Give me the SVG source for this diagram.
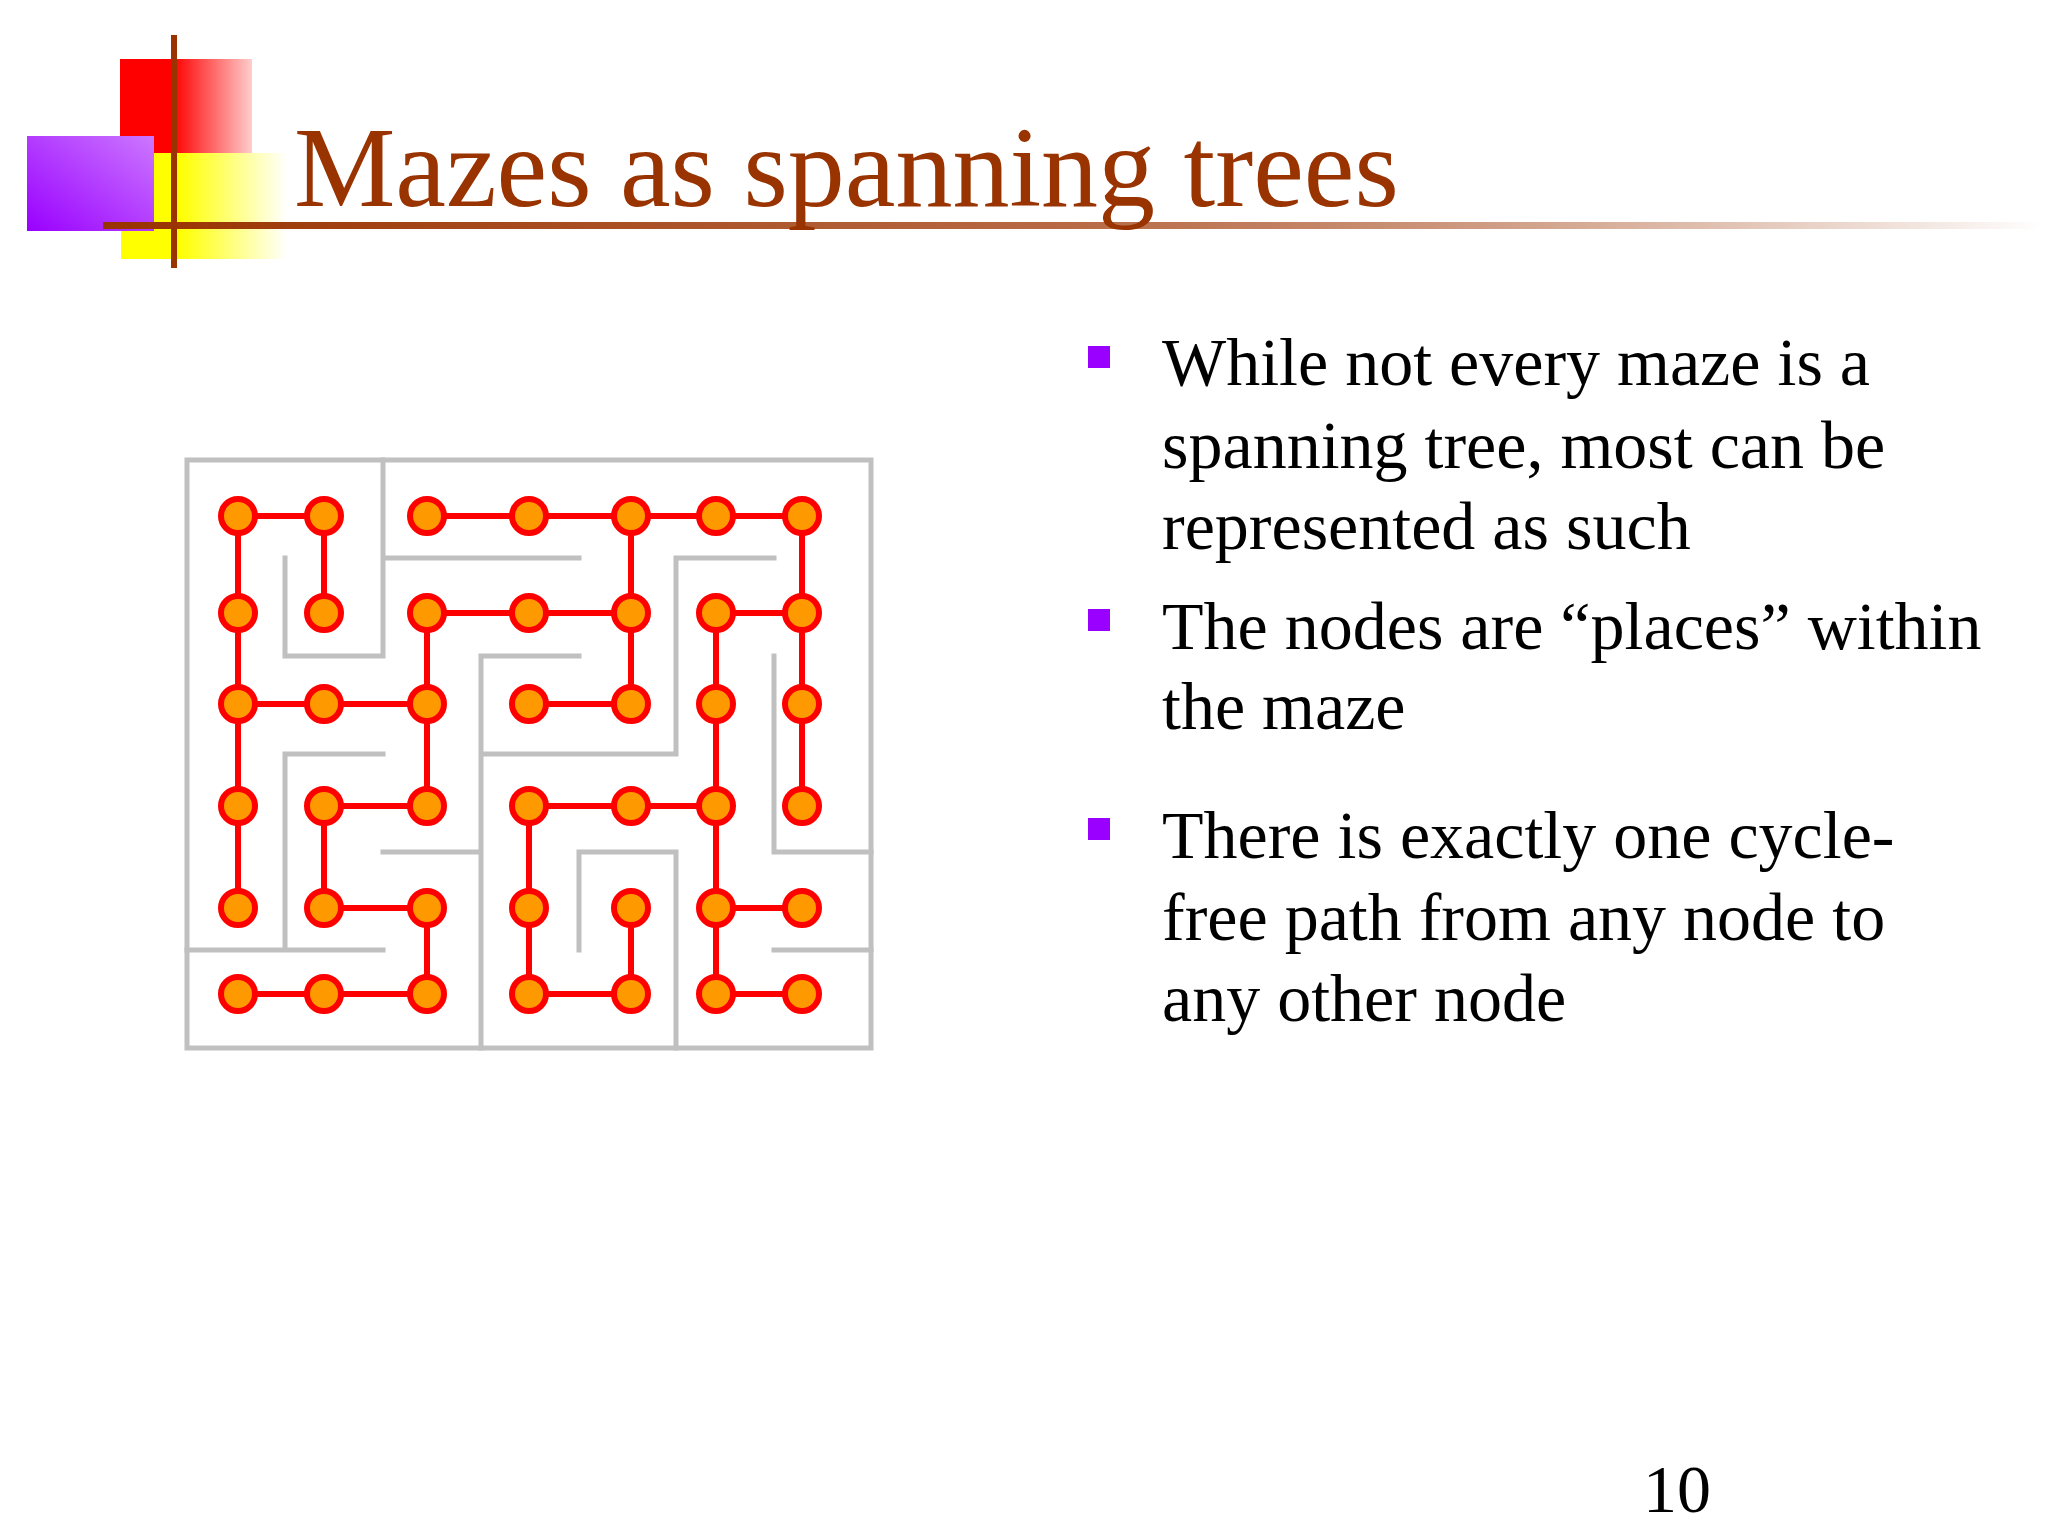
<svg xmlns="http://www.w3.org/2000/svg" width="2048" height="1536" viewBox="0 0 2048 1536">
<defs>
<linearGradient id="gr" x1="0" x2="1" y1="0" y2="0"><stop offset="0.4" stop-color="#ff0000"/><stop offset="1" stop-color="#ff0000" stop-opacity="0.2"/></linearGradient>
<linearGradient id="gy" x1="0" x2="1" y1="0" y2="0"><stop offset="0.35" stop-color="#ffff00"/><stop offset="1" stop-color="#ffff00" stop-opacity="0"/></linearGradient>
<linearGradient id="gp" x1="0" x2="1" y1="1" y2="0"><stop offset="0" stop-color="#9900ff"/><stop offset="1" stop-color="#cc77ff"/></linearGradient>
<linearGradient id="gl" x1="0" x2="1" y1="0" y2="0"><stop offset="0" stop-color="#993300"/><stop offset="0.5" stop-color="#b86a45"/><stop offset="1" stop-color="#993300" stop-opacity="0"/></linearGradient>
<style>
.w{stroke:#c0c0c0;stroke-width:5;fill:none;stroke-linecap:square}
.e{stroke:#ff0000;stroke-width:6;fill:none}
.n{fill:#ff9900;stroke:#ff0000;stroke-width:6}
.t{font-family:"Liberation Serif",serif;font-size:68px;fill:#000}
.b{fill:#9900ff}
</style>
</defs>
<rect width="2048" height="1536" fill="#ffffff"/>
<g id="decor">
<rect x="120" y="59" width="132" height="94" fill="url(#gr)"/>
<rect x="121" y="153" width="166" height="106" fill="url(#gy)"/>
<rect x="27" y="136" width="127" height="95" fill="url(#gp)"/>
<rect x="103" y="222" width="1940" height="7" fill="url(#gl)"/>
<rect x="171" y="35" width="6" height="233" fill="#993300"/>
</g>
<text x="294" y="206" font-family="Liberation Serif,serif" font-size="114" fill="#993300">Mazes as spanning trees</text>
<g id="walls" class="w">
<rect x="187" y="460" width="684" height="588"/>
<path d="M383 460V656H285V558M383 558H579M676 558H774M676 558V754M481 656V1048M481 656H579M774 656V852H871M481 754H676M285 754H383M285 754V950M383 852H481M187 950H383M579 852V950M579 852H676V1048M774 950H871"/>
</g>
<g id="edges" class="e">
<path d="M238 516H324M427 516H802M238 516V908M324 516V613M631 516V704M802 516V806M427 613H631M716 613H802M427 613V806M716 613V994M238 704H427M529 704H631M324 806H427M529 806H716M324 806V908M529 806V994M631 908V994M324 908H427M716 908H802M427 908V994M238 994H427M529 994H631M716 994H802"/>
</g>
<g id="nodes" class="n">
<circle cx="238" cy="516" r="17"/><circle cx="324" cy="516" r="17"/><circle cx="427" cy="516" r="17"/><circle cx="529" cy="516" r="17"/><circle cx="631" cy="516" r="17"/><circle cx="716" cy="516" r="17"/><circle cx="802" cy="516" r="17"/>
<circle cx="238" cy="613" r="17"/><circle cx="324" cy="613" r="17"/><circle cx="427" cy="613" r="17"/><circle cx="529" cy="613" r="17"/><circle cx="631" cy="613" r="17"/><circle cx="716" cy="613" r="17"/><circle cx="802" cy="613" r="17"/>
<circle cx="238" cy="704" r="17"/><circle cx="324" cy="704" r="17"/><circle cx="427" cy="704" r="17"/><circle cx="529" cy="704" r="17"/><circle cx="631" cy="704" r="17"/><circle cx="716" cy="704" r="17"/><circle cx="802" cy="704" r="17"/>
<circle cx="238" cy="806" r="17"/><circle cx="324" cy="806" r="17"/><circle cx="427" cy="806" r="17"/><circle cx="529" cy="806" r="17"/><circle cx="631" cy="806" r="17"/><circle cx="716" cy="806" r="17"/><circle cx="802" cy="806" r="17"/>
<circle cx="238" cy="908" r="17"/><circle cx="324" cy="908" r="17"/><circle cx="427" cy="908" r="17"/><circle cx="529" cy="908" r="17"/><circle cx="631" cy="908" r="17"/><circle cx="716" cy="908" r="17"/><circle cx="802" cy="908" r="17"/>
<circle cx="238" cy="994" r="17"/><circle cx="324" cy="994" r="17"/><circle cx="427" cy="994" r="17"/><circle cx="529" cy="994" r="17"/><circle cx="631" cy="994" r="17"/><circle cx="716" cy="994" r="17"/><circle cx="802" cy="994" r="17"/>
</g>
<g id="bullets">
<rect class="b" x="1088" y="346" width="22" height="22"/>
<rect class="b" x="1088" y="609" width="22" height="22"/>
<rect class="b" x="1088" y="818" width="22" height="22"/>
<text class="t" x="1162" y="385">While not every maze is a</text>
<text class="t" x="1162" y="468">spanning tree, most can be</text>
<text class="t" x="1162" y="549">represented as such</text>
<text class="t" x="1162" y="649">The nodes are “places” within</text>
<text class="t" x="1162" y="729">the maze</text>
<text class="t" x="1162" y="858">There is exactly one cycle-</text>
<text class="t" x="1162" y="940">free path from any node to</text>
<text class="t" x="1162" y="1021">any other node</text>
</g>
<text class="t" x="1643" y="1512">10</text>
</svg>
